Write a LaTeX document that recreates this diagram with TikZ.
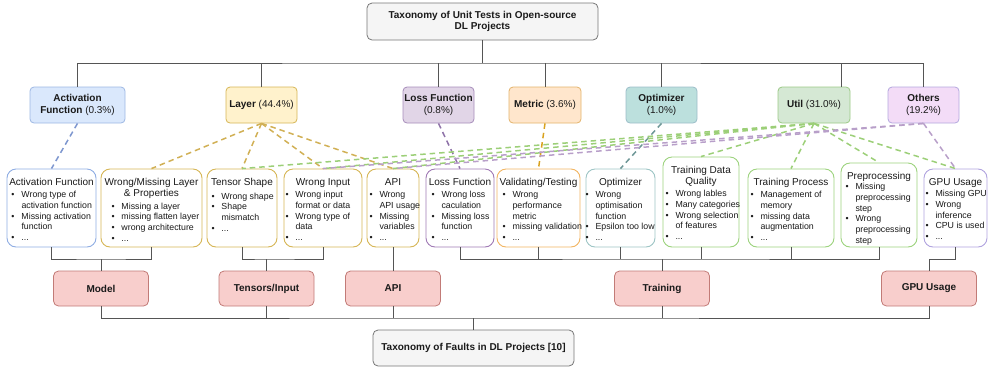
\documentclass[tikz,border=0pt]{standalone}
\usepackage{fontspec}
\setmainfont{Liberation Sans}
\definecolor{txt}{HTML}{1A1A1A}
\definecolor{busgray}{HTML}{555555}
\definecolor{topf}{HTML}{F5F5F5}
\definecolor{topb}{HTML}{777777}
\definecolor{actf}{HTML}{DAE8FC}
\definecolor{actb}{HTML}{9DB7E3}
\definecolor{aib}{HTML}{8FADE3}
\definecolor{dact}{HTML}{7E97CF}
\definecolor{layf}{HTML}{FFF2CC}
\definecolor{layb}{HTML}{D6B656}
\definecolor{dlay}{HTML}{D1B055}
\definecolor{lossf}{HTML}{E1D5E7}
\definecolor{lossb}{HTML}{A68DBA}
\definecolor{lossib}{HTML}{A07AB5}
\definecolor{dloss}{HTML}{8E72A8}
\definecolor{metf}{HTML}{FFE6CC}
\definecolor{metb}{HTML}{E3B36B}
\definecolor{valib}{HTML}{F2B562}
\definecolor{dmet}{HTML}{D9A21E}
\definecolor{optf}{HTML}{BCE0DD}
\definecolor{optb}{HTML}{9CBDC9}
\definecolor{optib}{HTML}{9EC5C5}
\definecolor{dopt}{HTML}{6E9797}
\definecolor{utilf}{HTML}{D5E8D4}
\definecolor{utilb}{HTML}{9CC986}
\definecolor{grnib}{HTML}{9DD37E}
\definecolor{dutil}{HTML}{9CCF78}
\definecolor{othf}{HTML}{F3DCF7}
\definecolor{othb}{HTML}{B4A8DE}
\definecolor{gpuib}{HTML}{B0A3DF}
\definecolor{doth}{HTML}{B89FC9}
\definecolor{faultf}{HTML}{F8CECC}
\definecolor{faultb}{HTML}{C27B77}
\newcommand{\bi}[1]{\par\noindent\hspace*{\bo}\makebox[10pt][l]{\textbullet}\mbox{#1}}
\newcommand{\bc}[1]{\par\noindent\hspace*{\dimexpr\bo+10pt\relax}\mbox{#1}}
\newcommand{\itm}[6]{\begin{minipage}[t][\dimexpr#2-6pt\relax][t]{\dimexpr#1-6pt\relax}\def\bo{#5}\noindent\fontsize{10}{11}\selectfont\rule{0pt}{13pt}\makebox[\linewidth][c]{\begin{tabular}[t]{@{}c@{}}#3\end{tabular}}\par\vspace{#4}\raggedright\fontsize{8.8}{10.7}\selectfont#6\par\end{minipage}}
\begin{document}
\begin{tikzpicture}[x=1pt,y=-1pt,
  bus/.style={draw=busgray, line width=0.9pt},
  cat/.style={draw, rounded corners=4pt, line width=0.8pt, align=center, inner sep=1pt, font=\fontsize{10}{11.7}\selectfont, text=txt},
  itembox/.style={draw, rounded corners=9pt, line width=0.9pt, inner sep=3pt, fill=white, text=txt},
  fault/.style={draw=faultb, fill=faultf, rounded corners=5pt, line width=0.8pt, minimum width=95pt, minimum height=35pt, font=\bfseries\fontsize{10}{12}\selectfont, text=txt},
  dl/.style={dash pattern=on 5.5pt off 4pt, line width=1.5pt},
]
\useasboundingbox (0,0) rectangle (991,368);
% top
\node[cat, draw=topb, fill=topf, rounded corners=5pt, minimum width=231pt, minimum height=37pt, font=\bfseries\fontsize{10}{11.3}\selectfont] (top) at (482.5,21.5) {Taxonomy of Unit Tests in Open-source\\DL Projects};
% categories
\node[cat, draw=actb, fill=actf, minimum width=95pt, minimum height=36pt] (cact) at (77.5,105) {\textbf{Activation}\\\textbf{Function} (0.3\%)};
\node[cat, draw=layb, fill=layf, minimum width=71pt, minimum height=36pt] (clay) at (261.5,105) {\textbf{Layer} (44.4\%)};
\node[cat, draw=lossb, fill=lossf, minimum width=71pt, minimum height=36pt] (closs) at (438.5,105) {\textbf{Loss Function}\\(0.8\%)};
\node[cat, draw=metb, fill=metf, minimum width=72pt, minimum height=36pt] (cmet) at (545,105) {\textbf{Metric} (3.6\%)};
\node[cat, draw=optb, fill=optf, minimum width=71pt, minimum height=36pt] (copt) at (661.5,105) {\textbf{Optimizer}\\(1.0\%)};
\node[cat, draw=utilb, fill=utilf, minimum width=72pt, minimum height=36pt] (cutil) at (814,105) {\textbf{Util} (31.0\%)};
\node[cat, draw=othb, fill=othf, minimum width=71pt, minimum height=36pt] (coth) at (923.5,105) {\textbf{Others}\\(19.2\%)};
% items
\node[itembox, draw=aib] (iact) at (51.5,208) {\itm{89pt}{78pt}{Activation Function}{2pt}{1.5pt}{\bi{Wrong type of}\bc{activation function}\bi{Missing activation}\bc{function}\bi{...}}};
\node[itembox, draw=layb] (iwm) at (151.5,208) {\itm{101pt}{78pt}{Wrong/Missing Layer\\\& Properties}{2.5pt}{7.5pt}{\bi{Missing a layer}\bi{missing flatten layer}\bi{wrong architecture}\bi{...}}};
\node[itembox, draw=layb] (its) at (242,208) {\itm{70pt}{78pt}{Tensor Shape}{3.5pt}{1.5pt}{\bi{Wrong shape}\bi{Shape}\bc{mismatch}\bi{...}}};
\node[itembox, draw=layb] (iwi) at (323,208) {\itm{78pt}{78pt}{Wrong Input}{2pt}{-1.5pt}{\bi{Wrong input}\bc{format or data}\bi{Wrong type of}\bc{data}\bi{...}}};
\node[itembox, draw=layb] (iapi) at (393,208) {\itm{52pt}{78pt}{API}{2pt}{-0.5pt}{\bi{Wrong}\bc{API usage}\bi{Missing}\bc{variables}\bi{...}}};
\node[itembox, draw=lossib] (iloss) at (460,208) {\itm{68pt}{78pt}{Loss Function}{2pt}{2.5pt}{\bi{Wrong loss}\bc{caculation}\bi{Missing loss}\bc{function}\bi{...}}};
\node[itembox, draw=valib] (ival) at (538.5,208) {\itm{83pt}{78pt}{Validating/Testing}{2pt}{2.5pt}{\bi{Wrong}\bc{performance}\bc{metric}\bi{missing validation}\bi{...}}};
\node[itembox, draw=optib] (iopt) at (620.5,208) {\itm{69pt}{78pt}{Optimizer}{2pt}{-3.5pt}{\bi{Wrong}\bc{optimisation}\bc{function}\bi{Epsilon too low}\bi{...}}};
\node[itembox, draw=grnib] (itdq) at (701,202) {\itm{76pt}{90pt}{Training Data\\Quality}{2pt}{-0.5pt}{\bi{Wrong lables}\bi{Many categories}\bi{Wrong selection}\bc{of features}\bi{...}}};
\node[itembox, draw=grnib] (itp) at (791,208) {\itm{86pt}{78pt}{Training Process}{2pt}{-0.5pt}{\bi{Management of}\bc{memory}\bi{missing data}\bc{augmentation}\bi{...}}};
\node[itembox, draw=grnib] (ipre) at (879,205) {\itm{76pt}{84pt}{Preprocessing}{0pt}{1.5pt}{\bi{Missing}\bc{preprocessing}\bc{step}\bi{Wrong}\bc{preprocessing}\bc{step}}};
\node[itembox, draw=gpuib] (igpu) at (955.5,208) {\itm{63pt}{78pt}{GPU Usage}{1pt}{-1.5pt}{\bi{Missing GPU}\bi{Wrong}\bc{inference}\bi{CPU is used}\bi{...}}};
% faults
\node[fault] (fmodel) at (101,288.5) {Model};
\node[fault] (ftens) at (266.5,288.5) {Tensors/Input};
\node[fault] (fapi) at (393,288.5) {API};
\node[fault] (ftrain) at (662,288.5) {Training};
\node[fault] (fgpu) at (929,288.5) {GPU Usage};
\node[cat, draw=topb, fill=topf, rounded corners=5pt, minimum width=201pt, minimum height=36pt, font=\bfseries\fontsize{10}{12}\selectfont] (final) at (473.5,348) {Taxonomy of Faults in DL Projects [10]};
% levels
\coordinate (l0) at (0,63);
\coordinate (l1) at (0,259);
\coordinate (l2) at (0,318);
\coordinate (ut) at ([xshift=-9pt]cutil.north east);
% top bus
\draw[bus] (top.south) -- (top.south |- l0);
\draw[bus] (cact.north) |- (top.south |- l0) -| (coth.north);
\foreach \n in {clay,closs,cmet,copt} \draw[bus] (\n.north) -- (\n.north |- l0);
\draw[bus] (ut) -- (ut |- l0);
% dashed links
\draw[dl, draw=dact] (cact.south) -- (iact.north);
\foreach \n in {iwm,its,iwi,iapi} \draw[dl, draw=dlay] (clay.south) -- (\n.north);
\draw[dl, draw=dloss] (closs.south) -- (iloss.north);
\draw[dl, draw=dmet] (cmet.south) -- (ival.north);
\draw[dl, draw=dopt] (copt.south) -- (iopt.north);
\foreach \n in {its,iwi,iapi,itdq,itp,ipre,igpu} \draw[dl, draw=dutil] (cutil.south) -- (\n.north);
\foreach \n in {iwi,iapi,igpu} \draw[dl, draw=doth] (coth.south) -- (\n.north);
% item to fault
\draw[bus] (iact.south) |- (fmodel.north |- l1) -| (iwm.south);
\draw[bus] (fmodel.north) -- (fmodel.north |- l1);
\draw[bus] (its.south) |- (ftens.north |- l1) -| (iwi.south);
\draw[bus] (ftens.north) -- (ftens.north |- l1);
\draw[bus] (iapi.south) -- (fapi.north);
\draw[bus] (iloss.south) |- (ftrain.north |- l1) -| (ipre.south);
\foreach \n in {ival,iopt,itdq,itp} \draw[bus] (\n.south) -- (\n.south |- l1);
\draw[bus] (ftrain.north) -- (ftrain.north |- l1);
\draw[bus] (igpu.south) |- (fgpu.north |- l1) -- (fgpu.north);
% faults to final
\draw[bus] (fmodel.south) |- (final.north |- l2) -| (fgpu.south);
\foreach \n in {ftens,fapi,ftrain} \draw[bus] (\n.south) -- (\n.south |- l2);
\draw[bus] (final.north) -- (final.north |- l2);
\end{tikzpicture}
\end{document}
